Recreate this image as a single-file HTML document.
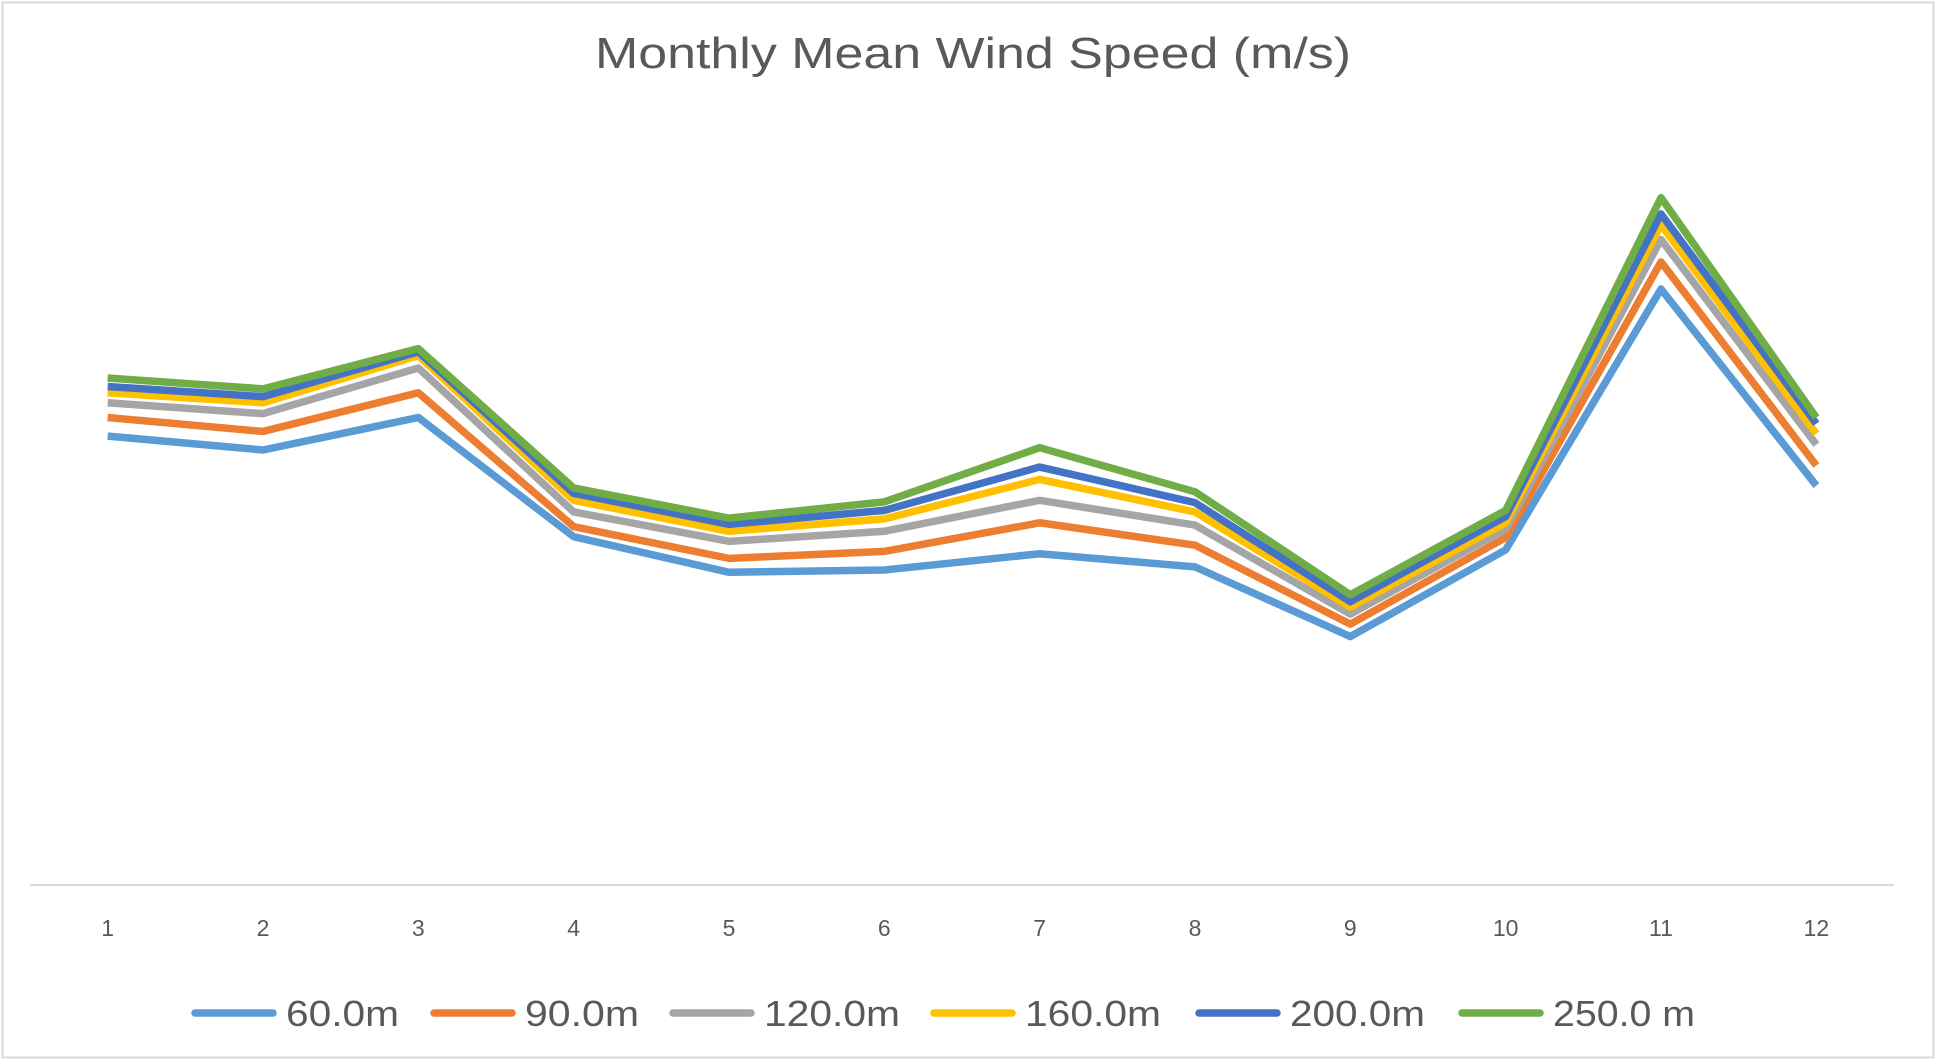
<!DOCTYPE html>
<html><head><meta charset="utf-8"><style>
html,body{margin:0;padding:0;background:#fff;}
svg{display:block;font-family:"Liberation Sans",sans-serif;}
</style></head><body>
<svg id="chart" width="1936" height="1060" viewBox="0 0 1936 1060">
<rect x="2.5" y="2.5" width="1931" height="1055" fill="#fff" stroke="#d9d9d9" stroke-width="2"/>
<text x="973" y="68" text-anchor="middle" font-size="44" fill="#595959" textLength="756" lengthAdjust="spacingAndGlyphs">Monthly Mean Wind Speed (m/s)</text>
<line x1="30" y1="885" x2="1894" y2="885" stroke="#d9d9d9" stroke-width="2"/>
<g id="ticks"></g><g id="series"></g><g id="legend"></g>
</svg>
<script>
const categories = ["1","2","3","4","5","6","7","8","9","10","11","12"];
const seriesNames = ["60.0m","90.0m","120.0m","160.0m","200.0m","250.0 m"];
const s60  = [5.80,5.62,6.04,4.50,4.04,4.07,4.28,4.11,3.21,4.33,7.70,5.16];
const s90  = [6.04,5.86,6.36,4.63,4.22,4.31,4.68,4.39,3.37,4.49,8.05,5.42];
const s120 = [6.23,6.09,6.68,4.82,4.44,4.57,4.97,4.65,3.50,4.60,8.34,5.69];
const s160 = [6.36,6.23,6.84,4.97,4.57,4.73,5.24,4.82,3.59,4.68,8.53,5.83];
const s200 = [6.44,6.31,6.89,5.06,4.66,4.84,5.40,4.94,3.66,4.76,8.67,5.96];
const s250 = [6.55,6.41,6.93,5.13,4.74,4.95,5.65,5.08,3.75,4.84,8.88,6.04];
const allSeries = [s60,s90,s120,s160,s200,s250];
const colors = ["#5b9bd5","#ed7d31","#a5a5a5","#ffc000","#4472c4","#70ad47"];
const NS="http://www.w3.org/2000/svg";
const xLeft=30, xRight=1894, yBottom=885, yTop=111, vMax=10;
const step=(xRight-xLeft)/categories.length;
function xPos(i){return xLeft+step*(i+0.5);}
function yPos(v){return yBottom-(v/vMax)*(yBottom-yTop);}
const ticks=document.getElementById('ticks');
categories.forEach((c,i)=>{
  const t=document.createElementNS(NS,'text');
  
  
  t.setAttribute('x',xPos(i));t.setAttribute('y',936);
  t.setAttribute('text-anchor','middle');t.setAttribute('font-size','23');t.setAttribute('fill','#595959');
  t.textContent=c;ticks.appendChild(t);
});
const sg=document.getElementById('series');
allSeries.forEach((arr,k)=>{
  const p=document.createElementNS(NS,'polyline');
  
  
  p.setAttribute('points',arr.map((v,i)=>xPos(i)+','+yPos(v)).join(' '));
  p.setAttribute('fill','none');p.setAttribute('stroke',colors[k]);
  p.setAttribute('stroke-width','7.5');p.setAttribute('stroke-linejoin','round');
  sg.appendChild(p);
});
const lg=document.getElementById('legend');
const legendLineX=[195,434,673,934,1199,1462];
const legendTextW=[113,114,136,136,135,142];
seriesNames.forEach((n,k)=>{
  const g=document.createElementNS(NS,'g');
  
  
  const l=document.createElementNS(NS,'line');
  
  
  l.setAttribute('x1',legendLineX[k]);l.setAttribute('x2',legendLineX[k]+78);
  l.setAttribute('y1',1013);l.setAttribute('y2',1013);
  l.setAttribute('stroke',colors[k]);l.setAttribute('stroke-width','7.5');l.setAttribute('stroke-linecap','round');
  const t=document.createElementNS(NS,'text');
  
  
  t.setAttribute('x',legendLineX[k]+91);t.setAttribute('y',1026);
  t.setAttribute('font-size','36');t.setAttribute('fill','#595959');
  t.setAttribute('textLength',legendTextW[k]);t.setAttribute('lengthAdjust','spacingAndGlyphs');
  t.textContent=n;
  g.appendChild(l);g.appendChild(t);lg.appendChild(g);
});
</script>
</body></html>
